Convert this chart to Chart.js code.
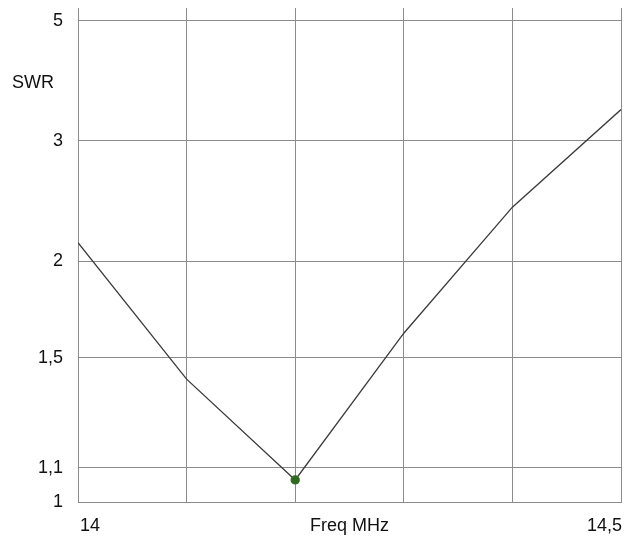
<!DOCTYPE html>
<html>
<head>
<meta charset="utf-8">
<script src="https://cdn.jsdelivr.net/npm/chart.js@4/dist/chart.umd.min.js"></script>
<style>
html,body{margin:0;padding:0;background:#fff;}
#wrap{width:625px;height:540px;position:relative;}
</style>
</head>
<body>
<div id="wrap"><canvas id="c" width="625" height="540"></canvas></div>
<script>
// Data
const freqs = [14.0, 14.1, 14.2, 14.3, 14.4, 14.5];
const swrValues = [2.12, 1.41, 1.063, 1.61, 2.38, 3.38];
const yTickValues = [1, 1.1, 1.5, 2, 3, 5];
const xGridValues = [14.0, 14.1, 14.2, 14.3, 14.4, 14.5];
const xTickLabels = [{v: 14.0, t: '14', align: 'left'}, {v: 14.25, t: 'Freq MHz', align: 'center'}, {v: 14.5, t: '14,5', align: 'right'}];
const yAxisTitle = 'SWR';
const highlightIndex = 2;

// SWR chart scale is linear in reflection coefficient
const rho = s => (s - 1) / (s + 1);
const FONT = 'Arial, "Liberation Sans", Helvetica, sans-serif';

const labelsPlugin = {
  id: 'customLabels',
  afterDraw(chart) {
    const ctx = chart.ctx;
    const xs = chart.scales.x;
    ctx.save();
    ctx.fillStyle = '#111';
    ctx.font = '18px ' + FONT;
    ctx.textBaseline = 'alphabetic';
    xTickLabels.forEach(l => {
      let px = xs.getPixelForValue(l.v);
      if (l.align === 'left') px += 2;
      if (l.align === 'right') px += 1;
      ctx.textAlign = l.align;
      ctx.fillText(l.t, px, 531);
    });
    ctx.textAlign = 'left';
    ctx.fillText(yAxisTitle, 12, 88);
    ctx.restore();
  }
};

new Chart(document.getElementById('c'), {
  type: 'line',
  data: {
    datasets: [{
      data: freqs.map((f, i) => ({x: f, y: rho(swrValues[i])})),
      borderColor: '#3a3a3a',
      borderWidth: 1.3,
      tension: 0,
      fill: false,
      pointRadius: ctx => ctx.dataIndex === highlightIndex ? 4 : 0,
      pointBackgroundColor: '#2f6b1f',
      pointBorderColor: '#2f6b1f',
      pointHoverRadius: 0
    }]
  },
  options: {
    responsive: false,
    animation: false,
    events: [],
    layout: {padding: {left: 0, right: 4, top: 8, bottom: 0}},
    plugins: {legend: {display: false}, tooltip: {enabled: false}},
    scales: {
      x: {
        type: 'linear',
        min: 14.0,
        max: 14.5,
        afterBuildTicks: s => { s.ticks = xGridValues.map(v => ({value: v})); },
        afterFit: s => { s.height = 38; s.paddingLeft = 0; s.paddingRight = 0; },
        ticks: {display: false},
        grid: {color: '#8c8c8c', lineWidth: 1, drawTicks: false},
        border: {display: true, color: '#8c8c8c', width: 1}
      },
      y: {
        type: 'linear',
        min: 0,
        max: rho(5.33),
        afterBuildTicks: s => { s.ticks = yTickValues.map(v => ({value: rho(v)})); },
        afterFit: s => { s.width = 78; s.paddingTop = 0; s.paddingBottom = 0; },
        ticks: {
          padding: 15,
          color: '#111',
          font: {family: FONT, size: 18},
          callback: (val, idx) => String(yTickValues[idx]).replace('.', ',')
        },
        grid: {color: '#8c8c8c', lineWidth: 1, drawTicks: false},
        border: {display: true, color: '#8c8c8c', width: 1}
      }
    }
  },
  plugins: [labelsPlugin]
});
</script>
</body>
</html>
